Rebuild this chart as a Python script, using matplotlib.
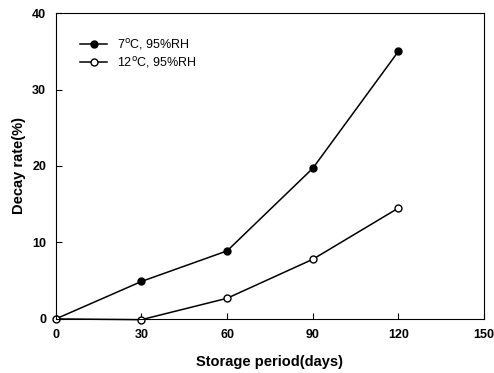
import matplotlib
matplotlib.use('Agg')
import matplotlib.pyplot as plt

plt.rcParams['font.family'] = ['Liberation Sans', 'DejaVu Sans']

# Storage data
days = [0, 30, 60, 90, 120]
decay_7c = [0, 4.9, 8.9, 19.7, 35.0]
decay_12c = [0, -0.1, 2.7, 7.8, 14.5]
labels = ['7$^{\\rm o}$C, 95%RH', '12$^{\\rm o}$C, 95%RH']

fig = plt.figure(figsize=(4.94, 3.73), dpi=100)
ax = fig.add_axes([0.113, 0.145, 0.867, 0.82])

ax.plot(days, decay_7c, marker='o', color='black', markerfacecolor='black',
        markersize=5, linewidth=1.1, label=labels[0])
ax.plot(days, decay_12c, marker='o', color='black', markerfacecolor='white',
        markersize=5, linewidth=1.1, label=labels[1], clip_on=False)

ax.set_xlim(0, 150)
ax.set_ylim(0, 40)
ax.set_xticks([0, 30, 60, 90, 120, 150])
ax.set_yticks([0, 10, 20, 30, 40])
ax.tick_params(direction='in', length=4, labelsize=9, pad=7)
for lbl in ax.get_xticklabels() + ax.get_yticklabels():
    lbl.set_fontweight('bold')

ax.set_xlabel('Storage period(days)', fontsize=10.5, fontweight='bold', labelpad=10)
ax.set_ylabel('Decay rate(%)', fontsize=10.5, fontweight='bold', labelpad=4)

ax.legend(loc='upper left', bbox_to_anchor=(0.03, 0.96), frameon=False,
          fontsize=9, handlelength=2.2, labelspacing=0.3)

plt.savefig('out.png', dpi=100)
